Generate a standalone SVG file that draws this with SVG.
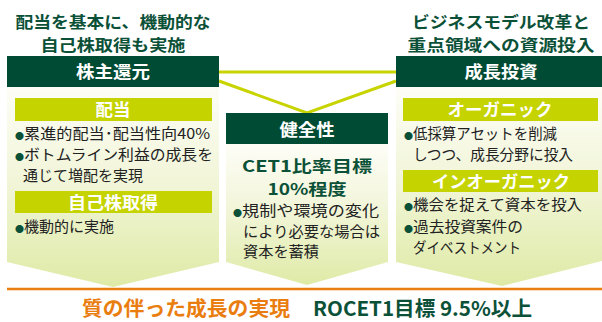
<svg xmlns="http://www.w3.org/2000/svg" width="602" height="322" viewBox="0 0 602 322">
<defs>
<linearGradient id="pg" x1="0" y1="0" x2="0" y2="1">
<stop offset="0" stop-color="#fdfdf7"/>
<stop offset="0.5" stop-color="#f1f5d6"/>
<stop offset="1" stop-color="#dfeaa6"/>
</linearGradient>
<style>
text{font-family:"Noto Sans CJK JP","Noto Sans",sans-serif}
.ttl{font-size:16px;font-weight:700;fill:#0b5138;text-anchor:middle}
.hd{fill:#004b33}
.hdt{font-size:17px;font-weight:700;fill:#fff;text-anchor:middle}
.bar{fill:#c5d300}
.bart{font-size:17px;font-weight:700;fill:#fff;text-anchor:middle}
.bl{font-size:15px;fill:#222}
.dot{font-size:9px;fill:#0b5138}
.panel{fill:url(#pg)}
.big{font-size:16px;font-weight:700;fill:#0b5138;text-anchor:middle}
.conn{stroke:#c8d400;stroke-width:3;fill:none}
</style>
</defs>
<rect width="602" height="322" fill="#fff"/>

<g id="connectors">
<line class="conn" x1="219" y1="72" x2="396" y2="72"/>
<polyline class="conn" points="219,81 307,113 396,81"/>
</g>

<g id="shareholder-return">
<text class="ttl" x="113" y="28" textLength="195" lengthAdjust="spacingAndGlyphs">配当を基本に、機動的な</text>
<text class="ttl" x="113" y="51" textLength="145" lengthAdjust="spacingAndGlyphs">自己株取得も実施</text>
<rect class="hd" x="7" y="56" width="212" height="31"/>
<text class="hdt" x="113" y="78" textLength="74" lengthAdjust="spacingAndGlyphs">株主還元</text>
<polygon class="panel" points="7,87 219,87 219,262 113,287 7,262"/>
<rect class="bar" x="15" y="98" width="197" height="23"/>
<text class="bart" x="113" y="116" textLength="35" lengthAdjust="spacingAndGlyphs">配当</text>
<text class="bl" x="15" y="139"><tspan class="dot">●</tspan><tspan textLength="186" lengthAdjust="spacingAndGlyphs">累進的配当･配当性向40%</tspan></text>
<text class="bl" x="15" y="160"><tspan class="dot">●</tspan><tspan textLength="189" lengthAdjust="spacingAndGlyphs">ボトムライン利益の成長を</tspan></text>
<text class="bl" x="23" y="181" textLength="120" lengthAdjust="spacingAndGlyphs">通じて増配を実現</text>
<rect class="bar" x="15" y="191" width="197" height="22"/>
<text class="bart" x="113" y="209" textLength="90" lengthAdjust="spacingAndGlyphs">自己株取得</text>
<text class="bl" x="15" y="232"><tspan class="dot">●</tspan><tspan textLength="90" lengthAdjust="spacingAndGlyphs">機動的に実施</tspan></text>
</g>

<g id="soundness">
<rect class="hd" x="226" y="113" width="162" height="31"/>
<text class="hdt" x="307" y="136" textLength="55" lengthAdjust="spacingAndGlyphs">健全性</text>
<polygon class="panel" points="226,144 388,144 388,262 307,285 226,262"/>
<text class="big" x="307" y="172" textLength="130" lengthAdjust="spacingAndGlyphs">CET1比率目標</text>
<text class="big" x="307" y="195" textLength="79" lengthAdjust="spacingAndGlyphs">10%程度</text>
<text class="bl" x="233" y="216"><tspan class="dot">●</tspan><tspan textLength="137" lengthAdjust="spacingAndGlyphs">規制や環境の変化</tspan></text>
<text class="bl" x="243" y="237" textLength="137" lengthAdjust="spacingAndGlyphs">により必要な場合は</text>
<text class="bl" x="243" y="257" textLength="76" lengthAdjust="spacingAndGlyphs">資本を蓄積</text>
</g>

<g id="growth-investment">
<text class="ttl" x="501" y="28" textLength="178" lengthAdjust="spacingAndGlyphs">ビジネスモデル改革と</text>
<text class="ttl" x="501" y="51" textLength="187" lengthAdjust="spacingAndGlyphs">重点領域への資源投入</text>
<rect class="hd" x="396" y="56" width="206" height="31"/>
<text class="hdt" x="501" y="78" textLength="73" lengthAdjust="spacingAndGlyphs">成長投資</text>
<polygon class="panel" points="396,87 602,87 602,261 502,286 396,262"/>
<rect class="bar" x="403" y="98" width="195" height="23"/>
<text class="bart" x="500" y="116" textLength="105" lengthAdjust="spacingAndGlyphs">オーガニック</text>
<text class="bl" x="404" y="139"><tspan class="dot">●</tspan><tspan textLength="144" lengthAdjust="spacingAndGlyphs">低採算アセットを削減</tspan></text>
<text class="bl" x="413" y="160" textLength="160" lengthAdjust="spacingAndGlyphs">しつつ、成長分野に投入</text>
<rect class="bar" x="403" y="170" width="195" height="22"/>
<text class="bart" x="501" y="188" textLength="138" lengthAdjust="spacingAndGlyphs">インオーガニック</text>
<text class="bl" x="404" y="210"><tspan class="dot">●</tspan><tspan textLength="169" lengthAdjust="spacingAndGlyphs">機会を捉えて資本を投入</tspan></text>
<text class="bl" x="404" y="232"><tspan class="dot">●</tspan><tspan textLength="110" lengthAdjust="spacingAndGlyphs">過去投資案件の</tspan></text>
<text class="bl" x="413" y="253" textLength="108" lengthAdjust="spacingAndGlyphs">ダイベストメント</text>
</g>

<g id="goal">
<line x1="7" y1="289" x2="602" y2="289" stroke="#ea7d0f" stroke-width="2.5"/>
<text x="82" y="316" font-size="20" font-weight="700" fill="#ea7d0f" textLength="208" lengthAdjust="spacingAndGlyphs">質の伴った成長の実現</text>
<text x="313" y="316" font-size="20" font-weight="700" fill="#0b5138" textLength="219" lengthAdjust="spacingAndGlyphs">ROCET1目標 9.5%以上</text>
</g>
</svg>
